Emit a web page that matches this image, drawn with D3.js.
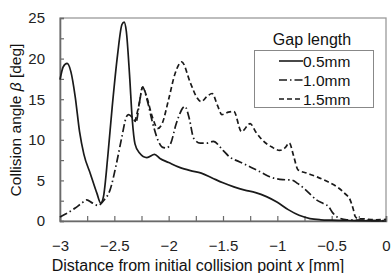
<!DOCTYPE html>
<html><head><meta charset="utf-8">
<script src="https://cdn.jsdelivr.net/npm/d3@7"></script>
<style>body{margin:0;background:#fff}svg{display:block}</style>
</head><body>
<svg id="c" width="392" height="273"></svg>
<script>
const seriesNames = ["0.5mm", "1.0mm", "1.5mm"];
const gap05 = [[-3,17.4],[-2.97,19.0],[-2.935,19.4],[-2.9,18.4],[-2.86,15.3],[-2.82,11.0],[-2.78,8.2],[-2.72,5.8],[-2.66,3.4],[-2.625,2.2],[-2.6,3.0],[-2.56,8.0],[-2.52,14.0],[-2.47,20.5],[-2.43,24.2],[-2.41,24.5],[-2.39,23.4],[-2.36,18.0],[-2.335,12.5],[-2.31,9.5],[-2.27,8.4],[-2.2,7.8],[-2.13,8.2],[-2.08,7.7],[-2.0,7.2],[-1.9,6.6],[-1.8,6.2],[-1.7,5.9],[-1.6,5.3],[-1.5,4.7],[-1.4,4.2],[-1.3,3.8],[-1.2,3.5],[-1.1,3.0],[-1.0,2.3],[-0.9,1.4],[-0.8,0.7],[-0.7,0.3],[-0.6,0.15],[-0.5,0.1],[-0.3,0.05],[0,0]];
const gap10 = [[-3,0.5],[-2.93,1.0],[-2.86,1.6],[-2.8,2.2],[-2.755,2.6],[-2.7,2.2],[-2.65,1.9],[-2.6,2.5],[-2.54,3.8],[-2.48,7.1],[-2.43,10.4],[-2.39,12.8],[-2.37,13.1],[-2.33,12.7],[-2.3,12.2],[-2.27,14.5],[-2.24,16.5],[-2.2,15.0],[-2.15,12.2],[-2.1,10.0],[-2.06,9.1],[-2.02,9.0],[-1.98,9.6],[-1.93,12.0],[-1.85,14.1],[-1.81,12.6],[-1.77,10.2],[-1.71,9.6],[-1.65,9.6],[-1.59,9.8],[-1.5,8.7],[-1.44,7.9],[-1.35,7.3],[-1.24,6.6],[-1.15,6.0],[-1.07,5.45],[-0.95,5.1],[-0.87,5.05],[-0.81,4.6],[-0.72,3.6],[-0.64,2.6],[-0.57,2.1],[-0.53,1.8],[-0.49,1.0],[-0.45,0.5],[-0.36,0.15],[-0.2,0.1],[0,0.05]];
const gap15 = [[-2.31,12.2],[-2.27,14.5],[-2.24,16.5],[-2.2,15.2],[-2.15,12.8],[-2.1,11.4],[-2.06,12.0],[-2.0,15.0],[-1.94,18.2],[-1.88,19.6],[-1.8,17.0],[-1.74,15.2],[-1.7,14.7],[-1.65,15.3],[-1.6,15.7],[-1.55,14.2],[-1.51,13.1],[-1.45,13.4],[-1.4,13.5],[-1.33,11.0],[-1.25,12.0],[-1.2,11.0],[-1.14,10.0],[-1.05,9.1],[-0.98,8.7],[-0.93,9.0],[-0.89,9.6],[-0.85,8.0],[-0.81,6.3],[-0.73,5.9],[-0.63,5.4],[-0.53,4.8],[-0.45,4.2],[-0.38,3.4],[-0.33,2.6],[-0.3,1.4],[-0.285,0.6],[-0.26,0.3],[-0.2,0.25],[-0.1,0.15],[0,0.2]];
const xTicks = [-3,-2.5,-2,-1.5,-1,-0.5,0];
const xMinor = d3.range(-3,0.001,0.25);
const yTicks = [0,5,10,15,20,25];
const yMinor = d3.range(0,25.001,2.5);

const svg = d3.select("#c");
const L=60,R=386,T=18,B=221;
const x = d3.scaleLinear().domain([-3,0]).range([L,R]);
const y = d3.scaleLinear().domain([0,25]).range([B,T]);
const font = "Liberation Sans, Arial, sans-serif";

// frame
svg.append("rect").attr("x",L).attr("y",T).attr("width",R-L).attr("height",B-T)
  .attr("fill","none").attr("stroke","#9a9a9a").attr("stroke-width",1.3);

// x axis
const xa = svg.append("g").attr("transform",`translate(0,${B})`)
  .call(d3.axisBottom(x).tickValues(xMinor).tickSize(-5).tickPadding(19)
    .tickFormat(d => xTicks.some(t=>Math.abs(t-d)<1e-9) ? d3.format("")(+d.toFixed(2)) : ""));
xa.select(".domain").attr("stroke","#6a6a6a").attr("stroke-width",1.6);
xa.selectAll(".tick line").attr("stroke","#6a6a6a").attr("stroke-width",1.2);
xa.selectAll("text").attr("font-family",font).attr("font-size",15).attr("fill","#222");

// y axis
const ya = svg.append("g").attr("transform",`translate(${L},0)`)
  .call(d3.axisLeft(y).tickValues(yMinor).tickSize(-4).tickPadding(15)
    .tickFormat(d => yTicks.includes(d) ? d : ""));
ya.select(".domain").attr("stroke","#6a6a6a").attr("stroke-width",1.6);
ya.selectAll(".tick line").attr("stroke","#6a6a6a").attr("stroke-width",1.2);
ya.selectAll("text").attr("font-family",font).attr("font-size",15).attr("fill","#222");

// lines
const line = d3.line().x(d=>x(d[0])).y(d=>y(d[1])).curve(d3.curveMonotoneX);
const styles = [null, "8,3,1.5,3", "5,3"];
const datas = [gap05, gap10, gap15];
datas.forEach((dat,i)=>{
  svg.append("path").datum(dat).attr("d",line).attr("fill","none")
    .attr("stroke","#1a1a1a").attr("stroke-width",1.7)
    .attr("stroke-dasharray",styles[i]);
});

// legend
svg.append("rect").attr("x",254.5).attr("y",50.5).attr("width",119).attr("height",57)
  .attr("fill","#fff").attr("stroke","#888").attr("stroke-width",1);
svg.append("text").attr("x",312).attr("y",45).attr("text-anchor","middle")
  .attr("font-family",font).attr("font-size",16).attr("fill","#111").text("Gap length");
seriesNames.forEach((n,i)=>{
  const cy = 61 + i*19;
  svg.append("line").attr("x1",279).attr("x2",303).attr("y1",cy).attr("y2",cy)
    .attr("stroke","#1a1a1a").attr("stroke-width",1.6).attr("stroke-dasharray",styles[i]);
  svg.append("text").attr("x",303).attr("y",cy+5.5).attr("font-family",font)
    .attr("font-size",15.5).attr("fill","#111").text(n);
});

// axis titles
const xt = svg.append("text").attr("x",198).attr("y",271).attr("text-anchor","middle")
  .attr("font-family",font).attr("font-size",16).attr("fill","#111");
xt.append("tspan").text("Distance from initial collision point ");
xt.append("tspan").attr("font-style","italic").text("x");
xt.append("tspan").text(" [mm]");
const yt = svg.append("text").attr("transform","translate(21,120) rotate(-90)")
  .attr("text-anchor","middle").attr("font-family",font).attr("font-size",15.5).attr("fill","#111");
yt.append("tspan").text("Collision angle ");
yt.append("tspan").attr("font-style","italic").text("β");
yt.append("tspan").text(" [deg]");
</script>
</body></html>
